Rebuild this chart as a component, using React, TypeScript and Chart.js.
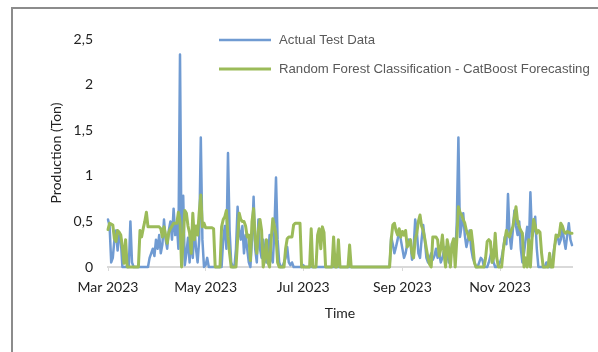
import React, { useEffect, useRef } from 'react';
import { Chart, registerables } from 'chart.js';

Chart.register(...registerables);

// Day offsets from 1 Mar 2023 for the month ticks, and their labels
const xTickDays = [0, 61, 122, 184, 245];
const xTickLabels = ['Mar 2023', 'May 2023', 'Jul 2023', 'Sep 2023', 'Nov 2023'];
const yTickLabels = ['0', '0,5', '1', '1,5', '2', '2,5'];
const seriesNames = ['Actual Test Data', 'Random Forest Classification - CatBoost Forecasting'];
const axisTitles = ['Time', 'Production (Ton)'];

// Daily values starting 1 Mar 2023
const actual = [
  0.52, 0.45, 0.05, 0.1, 0.3, 0.4, 0.18, 0.35, 0.3, 0,
  0, 0, 0, 0, 0.5, 0.05, 0, 0, 0, 0,
  0, 0, 0, 0, 0, 0, 0.1, 0.15, 0.2, 0.12,
  0.3, 0.2, 0.35, 0.15, 0.25, 0.52, 0.3, 0.2, 0.4, 0.5,
  0.3, 0.64, 0.35, 0.48, 0.2, 2.33, 0.1, 0.78, 0.02, 0.15,
  0.32, 0.05, 0.35, 0.1, 0.45, 0.2, 0.05, 0.3, 1.42, 0.3,
  0, 0.02, 0.1, 0, 0, 0, 0, 0, 0, 0,
  0, 0, 0.3, 0.45, 0.2, 1.25, 0.4, 0.05, 0, 0,
  0.2, 0.66, 0.4, 0.3, 0.45, 0.15, 0.35, 0.2, 0.05, 0,
  0.3, 0.77, 0.2, 0.05, 0.52, 0.2, 0.1, 0.3, 0.15, 0.05,
  0.1, 0.35, 0.1, 0.05, 0.4, 0.98, 0.3, 0.05, 0, 0,
  0.05, 0.1, 0.22, 0.05, 0.02, 0.05, 0, 0, 0, 0,
  0, 0, 0.02, 0, 0, 0, 0, 0, 0, 0,
  0, 0, 0, 0, 0, 0, 0, 0, 0, 0,
  0, 0, 0, 0, 0, 0, 0, 0, 0, 0,
  0, 0, 0, 0, 0, 0, 0, 0, 0, 0,
  0, 0, 0, 0, 0, 0, 0, 0, 0, 0,
  0, 0, 0, 0, 0, 0, 0, 0.33, 0.25, 0.15,
  0.22, 0.3, 0.4, 0.3, 0.2, 0.1, 0.15, 0.25, 0.3, 0.28,
  0.08, 0.2, 0.52, 0.4, 0.15, 0.1, 0.3, 0.46, 0.3, 0.1,
  0.05, 0.1, 0.15, 0.08, 0.12, 0.2, 0.1, 0.15, 0.05, 0.1,
  0.18, 0.22, 0.15, 0.05, 0.1, 0.26, 0.2, 0.1, 0.5, 1.42,
  0.33, 0.45, 0.59, 0.35, 0.22, 0.3, 0.4, 0.2, 0.1, 0.05,
  0, 0, 0.05, 0.1, 0.08, 0, 0, 0, 0.05, 0.12,
  0.19, 0.05, 0, 0, 0.02, 0.05, 0.1, 0.2, 0.33, 0.25,
  0.8, 0.35, 0.2, 0.4, 0.62, 0.45, 0.35, 0.5, 0.2, 0.05,
  0.15, 0.3, 0.44, 0.2, 0.82, 0.33, 0.4, 0.55, 0.2, 0,
  0, 0, 0, 0, 0.05, 0, 0, 0, 0.1, 0.22,
  0.3, 0.35, 0.25, 0.3, 0.44, 0.3, 0.2, 0.35, 0.48, 0.3,
  0.24,
];

const forecast = [
  0.41, 0.48, 0.47, 0.46, 0.31, 0.28, 0.4, 0.38, 0.35, 0.22,
  0.04, 0.3, 0, 0, 0, 0, 0, 0, 0, 0,
  0.4, 0.33, 0.42, 0.5, 0.6, 0.44, 0.44, 0.44, 0.44, 0.44,
  0.44, 0.44, 0.44, 0.42, 0.33, 0.44, 0.35, 0.26, 0.38, 0.42,
  0.45, 0.48, 0.48, 0.48, 0.6, 0.5, 0, 0.3, 0.62, 0.59,
  0.45, 0.37, 0.15, 0.59, 0.3, 0.45, 0.35, 0.6, 0.79, 0.44,
  0.48, 0.43, 0.43, 0.43, 0.43, 0.43, 0.42, 0, 0, 0,
  0, 0.44, 0.52, 0.55, 0.62, 0.33, 0.15, 0, 0, 0,
  0, 0.3, 0.59, 0.52, 0.5, 0.5, 0.45, 0.33, 0.35, 0.07,
  0.5, 0.64, 0.3, 0.15, 0.4, 0.52, 0.4, 0, 0.1, 0.3,
  0.05, 0, 0.3, 0.53, 0.45, 0.35, 0.05, 0, 0, 0,
  0, 0.2, 0.31, 0.33, 0.33, 0.33, 0.46, 0.48, 0.48, 0.48,
  0.48, 0, 0, 0, 0, 0, 0, 0.42, 0, 0,
  0, 0.35, 0.42, 0.2, 0.44, 0.38, 0, 0, 0, 0,
  0, 0.33, 0, 0, 0.3, 0, 0, 0, 0, 0,
  0, 0.24, 0, 0, 0, 0, 0, 0, 0, 0,
  0, 0, 0, 0, 0, 0, 0, 0, 0, 0,
  0, 0, 0, 0, 0, 0, 0, 0.3, 0.46, 0.48,
  0.4, 0.35, 0.42, 0.33, 0.39, 0.35, 0.4, 0.22, 0.25, 0.3,
  0.15, 0.1, 0.3, 0.37, 0.5, 0.57, 0.45, 0.4, 0.31, 0.2,
  0.1, 0.03, 0, 0.33, 0.33, 0.33, 0.3, 0.12, 0.2, 0.35,
  0.15, 0, 0.3, 0.2, 0, 0.25, 0.31, 0, 0.3, 0.66,
  0.6, 0.57, 0.52, 0.48, 0.4, 0.35, 0.3, 0.4, 0.25, 0.05,
  0, 0, 0, 0, 0, 0, 0.1, 0.28, 0.3, 0.28,
  0.05, 0.1, 0.37, 0.1, 0, 0, 0, 0.18, 0.3, 0.4,
  0.35, 0.33, 0.4, 0.44, 0.55, 0.66, 0.5, 0.44, 0.4, 0.37,
  0, 0.1, 0, 0.3, 0, 0.3, 0.52, 0.45, 0.37, 0.4,
  0.38, 0.15, 0, 0, 0, 0, 0.15, 0, 0, 0.2,
  0.35, 0.33, 0.35, 0.48, 0.45, 0.39, 0.37, 0.39, 0.38, 0.37,
  0.37,
];

const insideLegend = {
  id: 'insideLegend',
  afterDraw(chart: any) {
    const opts = chart.options.plugins.insideLegend;
    const { ctx } = chart;
    chart.data.datasets.forEach((ds: any, i: number) => {
      const y = opts.y + i * opts.spacing;
      ctx.save();
      ctx.strokeStyle = ds.borderColor;
      ctx.lineWidth = ds.borderWidth;
      ctx.beginPath();
      ctx.moveTo(opts.x, y);
      ctx.lineTo(opts.x + opts.lineLength, y);
      ctx.stroke();
      ctx.fillStyle = opts.color;
      ctx.font = opts.font;
      ctx.textAlign = 'left';
      ctx.textBaseline = 'middle';
      ctx.fillText(ds.label, opts.x + opts.lineLength + opts.gap, y);
      ctx.restore();
    });
  },
};

export default function App() {
  const ref = useRef<HTMLCanvasElement | null>(null);

  useEffect(() => {
    if (!ref.current) return;
    const axisFont = { family: 'Lato, "Open Sans", sans-serif', size: 14 };
    const chart = new Chart(ref.current, {
      type: 'line',
      data: {
        datasets: [
          {
            label: seriesNames[0],
            data: actual.map((v, i) => ({ x: i, y: v })),
            borderColor: '#709bd2',
            borderWidth: 2.5,
            borderJoinStyle: 'round',
            borderCapStyle: 'round',
            pointRadius: 0,
            tension: 0,
            order: 2,
            clip: 6,
          },
          {
            label: seriesNames[1],
            data: forecast.map((v, i) => ({ x: i, y: v })),
            borderColor: '#9bbb59',
            borderWidth: 3,
            borderJoinStyle: 'round',
            borderCapStyle: 'round',
            pointRadius: 0,
            tension: 0,
            order: 1,
            clip: 6,
          },
        ],
      },
      options: {
        animation: false,
        responsive: false,
        devicePixelRatio: 1,
        layout: { padding: { left: 0, right: 26, top: 39, bottom: 30 } },
        plugins: {
          legend: { display: false },
          tooltip: { enabled: false },
          insideLegend: {
            x: 219,
            y: 40,
            spacing: 29,
            lineLength: 52,
            gap: 8,
            color: '#595959',
            font: '13.2px "Liberation Sans", Arial, sans-serif',
          },
        } as any,
        scales: {
          x: {
            type: 'linear',
            min: 0,
            max: 290,
            afterBuildTicks: (scale: any) => {
              scale.ticks = xTickDays.map((v) => ({ value: v }));
            },
            afterFit: (scale: any) => {
              scale.height = 55;
            },
            grid: {
              display: true,
              drawOnChartArea: false,
              drawTicks: true,
              tickLength: 4,
              color: '#d9d9d9',
            },
            border: { display: true, color: '#d9d9d9', width: 2 },
            ticks: {
              autoSkip: false,
              maxRotation: 0,
              padding: 8,
              color: '#222',
              font: axisFont,
              callback: (v: any) => {
                const idx = xTickDays.indexOf(Number(v));
                return idx >= 0 ? xTickLabels[idx] : '';
              },
            },
            title: {
              display: true,
              text: axisTitles[0],
              color: '#222',
              font: axisFont,
              padding: { top: 0, bottom: 0 },
            },
          },
          y: {
            min: 0,
            max: 2.5,
            afterFit: (scale: any) => {
              scale.width = 108;
            },
            grid: { display: false, drawTicks: false },
            border: { display: false },
            ticks: {
              stepSize: 0.5,
              padding: 15,
              color: '#222',
              font: axisFont,
              callback: (v: any) => {
                const idx = Math.round(Number(v) / 0.5);
                return yTickLabels[idx] ?? '';
              },
            },
            title: {
              display: true,
              text: axisTitles[1],
              color: '#222',
              font: axisFont,
              padding: { top: 48, bottom: 0 },
            },
          },
        },
      },
      plugins: [insideLegend],
    });
    return () => chart.destroy();
  }, []);

  return (
    <div
      style={{
        position: 'fixed',
        left: 0,
        top: 0,
        width: 598,
        height: 352,
        overflow: 'hidden',
        background: '#fff',
      }}
    >
      <div
        style={{
          position: 'absolute',
          left: 11,
          top: 7,
          width: 800,
          height: 600,
          borderLeft: '2px solid #8c8c8c',
          borderTop: '2px solid #8c8c8c',
        }}
      />
      <canvas
        ref={ref}
        width={598}
        height={352}
        style={{ position: 'absolute', left: 0, top: 0, width: 598, height: 352 }}
      />
    </div>
  );
}
